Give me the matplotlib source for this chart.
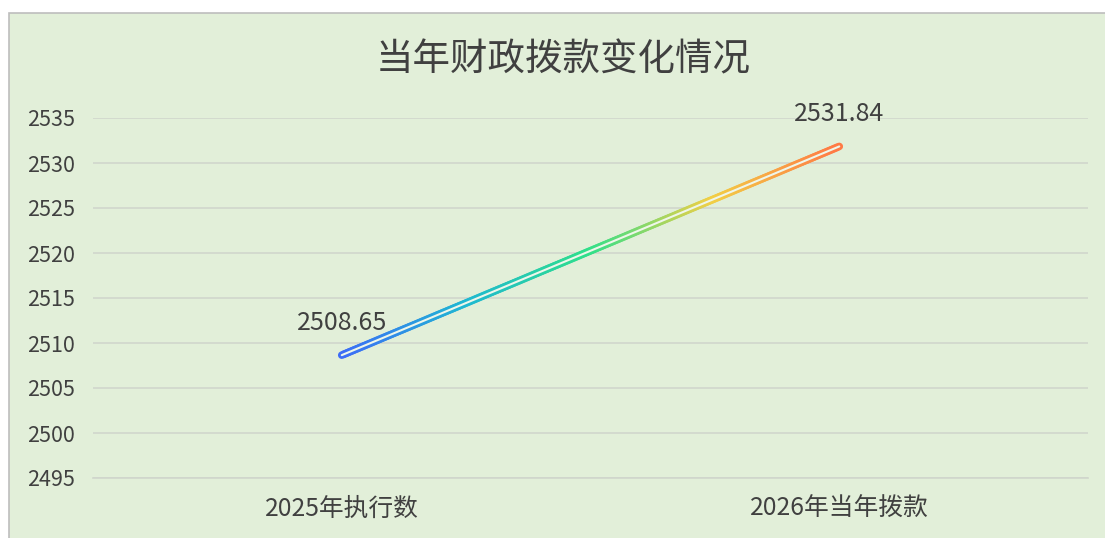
import matplotlib.pyplot as plt
import numpy as np
from matplotlib.collections import LineCollection
from matplotlib.colors import LinearSegmentedColormap
from matplotlib.patches import Rectangle

plt.rcParams['font.family'] = ['Noto Sans CJK SC', 'DejaVu Sans']

# 数据
categories = ['2025年执行数', '2026年当年拨款']
values = [2508.65, 2531.84]
y_ticks = [2495, 2500, 2505, 2510, 2515, 2520, 2525, 2530, 2535]

bg = '#e2efd9'
text_c = '#404040'

fig = plt.figure(figsize=(11.05, 5.38), dpi=100)
fig.patch.set_facecolor('white')
fig.patches.append(Rectangle((9 / 1105, -0.01), 1.0, (538 - 13) / 538 + 0.01,
                             transform=fig.transFigure, facecolor=bg,
                             edgecolor='#bdbdbd', linewidth=1.2, zorder=-1))

ax = fig.add_axes([93 / 1105, 1 - 478 / 538, 995 / 1105, 360 / 538])
ax.set_facecolor('none')

# 渐变折线
cmap = LinearSegmentedColormap.from_list(
    'grad', ['#3d6cf7', '#1fb8d2', '#2fe08a', '#f2cf45', '#ff7a45'])
x = np.arange(len(values))
xs = np.linspace(x[0], x[-1], 200)
ys = np.interp(xs, x, values)
pts = np.column_stack([xs, ys]).reshape(-1, 1, 2)
segs = np.concatenate([pts[:-1], pts[1:]], axis=1)
lc = LineCollection(segs, cmap=cmap, linewidth=5.5, capstyle='round', zorder=3)
lc.set_array(np.linspace(0, 1, len(segs)))
ax.add_collection(lc)
ax.plot(x, values, color='#eef6ea', lw=1.5, solid_capstyle='round', zorder=4)

# 数据标签
for xi, v in zip(x, values):
    ax.annotate(f'{v:.2f}', (xi, v), xytext=(0, 14), textcoords='offset points',
                ha='center', va='bottom', fontsize=18, color=text_c)

ax.set_xlim(-0.5, len(values) - 0.5)
ax.set_ylim(y_ticks[0], y_ticks[-1])
ax.set_yticks(y_ticks)
ax.set_xticks(x)
ax.set_xticklabels(categories)
ax.tick_params(axis='y', length=0, pad=13, labelsize=15.5, labelcolor=text_c)
ax.tick_params(axis='x', length=0, pad=13, labelsize=17.8, labelcolor=text_c)
ax.grid(axis='y', color='#d0d6cc', linewidth=1.2)
for s in ['top', 'right', 'left']:
    ax.spines[s].set_visible(False)
ax.spines['bottom'].set_color('#d0d6cc')
ax.spines['bottom'].set_linewidth(1.2)

fig.text(563 / 1105, 1 - 60 / 538, '当年财政拨款变化情况', ha='center', va='center',
         fontsize=27, color=text_c)

fig.savefig('out.png', dpi=100, facecolor=fig.get_facecolor())
